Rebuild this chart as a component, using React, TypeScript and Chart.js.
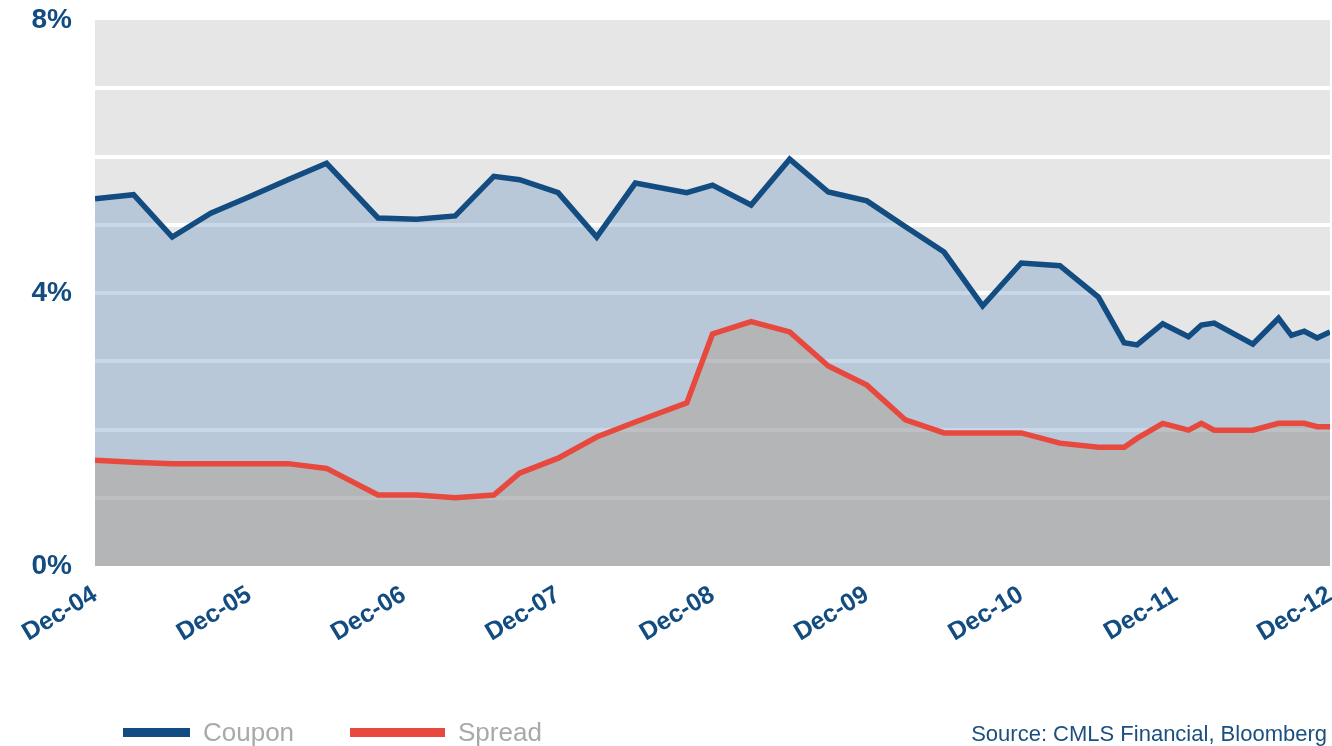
import React, { useEffect, useRef } from "react";
import { Chart, registerables } from "chart.js";

Chart.register(...registerables);

// x positions in months after Dec-04
const xTickLabels = ["Dec-04", "Dec-05", "Dec-06", "Dec-07", "Dec-08", "Dec-09", "Dec-10", "Dec-11", "Dec-12"];

const couponMonths = [0, 3, 6, 9, 12, 15, 18, 22, 25, 28, 31, 33, 36, 39, 42, 46, 48, 51, 54, 57, 60, 63, 66, 69, 72, 75, 78, 80, 81, 83, 85, 86, 87, 90, 92, 93, 94, 95, 96];
const couponValues = [5.38, 5.44, 4.82, 5.17, 5.41, 5.66, 5.9, 5.1, 5.08, 5.13, 5.71, 5.66, 5.47, 4.82, 5.61, 5.47, 5.58, 5.29, 5.96, 5.48, 5.35, 4.97, 4.6, 3.81, 4.44, 4.4, 3.94, 3.27, 3.24, 3.55, 3.36, 3.53, 3.56, 3.25, 3.63, 3.38, 3.44, 3.34, 3.43];

const spreadMonths = [0, 3, 6, 15, 18, 22, 25, 28, 31, 33, 36, 39, 42, 46, 48, 51, 54, 57, 60, 63, 66, 72, 75, 78, 80, 81, 83, 85, 86, 87, 90, 92, 94, 95, 96];
const spreadValues = [1.55, 1.52, 1.5, 1.5, 1.43, 1.04, 1.04, 1.0, 1.04, 1.36, 1.58, 1.89, 2.11, 2.39, 3.4, 3.58, 3.43, 2.93, 2.65, 2.14, 1.95, 1.95, 1.8, 1.74, 1.74, 1.87, 2.09, 1.99, 2.09, 1.99, 1.99, 2.09, 2.09, 2.04, 2.04];

const yTickLabels = ["0%", "4%", "8%"];

const BLUE = "#124c80";
const RED = "#e8493f";
const FONT = "'Liberation Sans', Arial, sans-serif";

const plotBg = {
  id: "plotBg",
  beforeDraw(chart: any) {
    const { ctx, chartArea } = chart;
    ctx.save();
    ctx.fillStyle = "#e6e6e6";
    ctx.fillRect(chartArea.left, chartArea.top, chartArea.right - chartArea.left, chartArea.bottom - chartArea.top);
    ctx.restore();
  },
};

export default function App() {
  const ref = useRef<HTMLCanvasElement>(null);
  useEffect(() => {
    document.body.style.margin = "0";
    const chart = new Chart(ref.current!, {
      type: "line",
      data: {
        datasets: [
          {
            label: "Spread",
            data: spreadMonths.map((m, i) => ({ x: m, y: spreadValues[i] })),
            borderColor: RED,
            borderWidth: 5.5,
            backgroundColor: "rgba(173,146,122,0.35)",
            fill: "origin",
            pointRadius: 0,
            tension: 0,
          },
          {
            label: "Coupon",
            data: couponMonths.map((m, i) => ({ x: m, y: couponValues[i] })),
            borderColor: BLUE,
            borderWidth: 5.5,
            backgroundColor: "rgba(102,147,191,0.36)",
            fill: "origin",
            pointRadius: 0,
            tension: 0,
          },
        ],
      },
      options: {
        animation: false,
        responsive: false,
        layout: { padding: { top: 20, right: 2, left: 0, bottom: 0 } },
        plugins: {
          legend: { display: false },
          tooltip: { enabled: false },
          filler: { drawTime: "beforeDatasetsDraw" } as any,
        },
        scales: {
          x: {
            type: "linear",
            min: 0,
            max: 96,
            grid: { display: false },
            border: { display: false },
            ticks: {
              stepSize: 12,
              autoSkip: false,
              maxRotation: 31,
              minRotation: 31,
              padding: 6,
              color: BLUE,
              font: { family: FONT, size: 25, weight: "bold" },
              callback: (v: any) => xTickLabels[Math.round(Number(v) / 12)] ?? "",
            },
            afterFit(scale: any) {
              scale.height = 180;
              scale.paddingLeft = 0;
              scale.paddingRight = 0;
            },
          },
          y: {
            min: 0,
            max: 8,
            grid: {
              color: (c: any) => (c.tick && c.tick.value > 0 && c.tick.value < 8 ? "#ffffff" : "rgba(0,0,0,0)"),
              lineWidth: 4,
              drawTicks: false,
              tickLength: 0,
            },
            border: { display: false },
            ticks: {
              stepSize: 1,
              padding: 23,
              color: BLUE,
              font: { family: FONT, size: 28, weight: "bold" },
              callback: (v: any) => (Number(v) % 4 === 0 ? yTickLabels[Number(v) / 4] : ""),
            },
            afterFit(scale: any) {
              scale.width = 95;
              scale.paddingTop = 0;
              scale.paddingBottom = 0;
            },
          },
        },
      },
      plugins: [plotBg],
    });
    return () => chart.destroy();
  }, []);

  const textBase: React.CSSProperties = { position: "absolute", fontFamily: FONT, whiteSpace: "nowrap", lineHeight: "26px" };

  return (
    <div style={{ position: "relative", width: 1332, height: 746, background: "#fff", overflow: "hidden" }}>
      <canvas ref={ref} width={1332} height={746} style={{ display: "block" }} />
      <div style={{ position: "absolute", left: 123, top: 728, width: 67, height: 9, background: BLUE }} />
      <div style={{ ...textBase, left: 203, top: 719, fontSize: 26, color: "#a9a9a9" }}>Coupon</div>
      <div style={{ position: "absolute", left: 350, top: 728, width: 95, height: 9, background: RED }} />
      <div style={{ ...textBase, left: 458, top: 719, fontSize: 26, color: "#a9a9a9" }}>Spread</div>
      <div style={{ ...textBase, right: 5, top: 721, fontSize: 22, color: "#1b4f80" }}>Source: CMLS Financial, Bloomberg</div>
    </div>
  );
}
